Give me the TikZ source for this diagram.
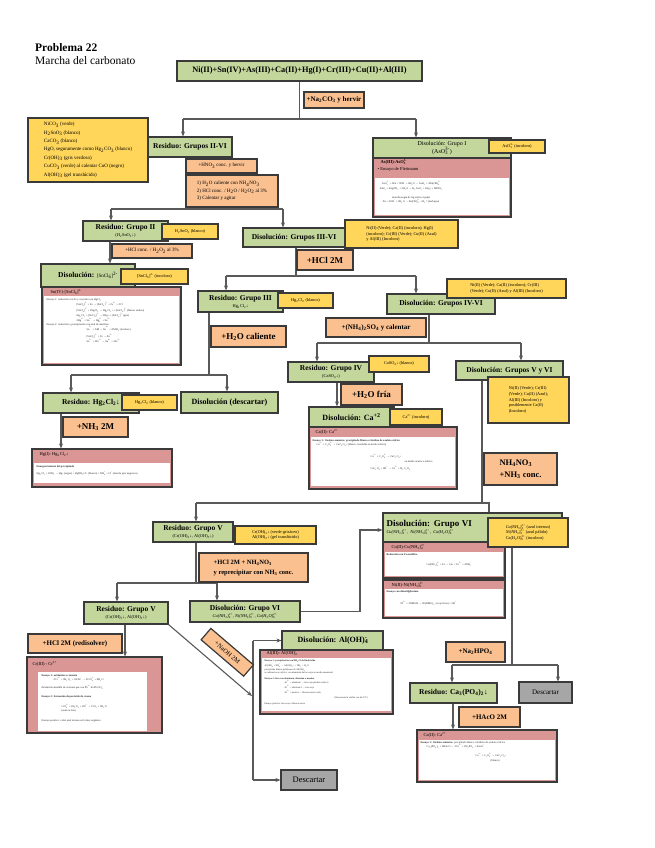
\documentclass[tikz,border=0pt]{standalone}
\usepackage{fontspec}
\setmainfont{Liberation Serif}
\usetikzlibrary{arrows.meta,calc,backgrounds}

\definecolor{verdeF}{HTML}{C3D69B}
\definecolor{naranjaF}{HTML}{FAC090}
\definecolor{amarilloF}{HTML}{FFD55A}
\definecolor{rojoF}{HTML}{D99694}
\definecolor{grisF}{HTML}{A6A6A6}
\definecolor{borde}{HTML}{3A3A3A}
\definecolor{trazo}{HTML}{595959}
\newcommand{\chico}{\mdseries\fontsize{4.4}{5}\selectfont}
\newcommand{\ba}[1]{\textsubscript{#1}}
\newcommand{\su}[1]{\textsuperscript{#1}}
\newcommand{\ion}[2]{\rlap{\textsubscript{#1}}\textsuperscript{#2}}

\begin{document}
\begin{tikzpicture}[x=1pt,y=-1pt,
  verde/.style={draw=borde,line width=1.2pt,fill=verdeF,inner sep=1pt,align=center,
    font=\bfseries\fontsize{7.5}{8}\selectfont},
  naranja/.style={draw=borde,line width=1.2pt,fill=naranjaF,inner sep=1pt,align=center,
    font=\bfseries\fontsize{7}{8}\selectfont},
  amarillo/.style={draw=borde,line width=1.2pt,fill=amarilloF,inner sep=2pt,align=left,
    font=\fontsize{4.3}{5.6}\selectfont},
  gris/.style={draw=borde,line width=1.2pt,fill=grisF,inner sep=1pt,
    font=\fontsize{8.5}{9}\selectfont},
  marco/.style={draw=borde,line width=1.2pt,fill=rojoF,inner sep=0pt},
  cabecera/.style={anchor=north west,inner sep=0pt,font=\fontsize{4.5}{5.5}\selectfont},
  minucia/.style={anchor=north west,inner sep=0pt,align=left,text=black!85,
    font=\fontsize{2.7}{4.2}\selectfont},
  linea/.style={draw=trazo,line width=1.1pt},
  flecha/.style={linea,-{Stealth[length=5pt,width=4pt]}}]
\useasboundingbox (0,0) rectangle (655,848);

% ---------- titulo ----------
\node[anchor=north west,inner sep=0pt,font=\bfseries\fontsize{11.5}{12}\selectfont] (titulo) at (35,43) {Problema 22};
\node[anchor=north west,inner sep=0pt,font=\fontsize{11.5}{12}\selectfont] (subtitulo) at (35,56) {Marcha del carbonato};

% ---------- muestra ----------
\node[verde,minimum width=245,minimum height=20,font=\bfseries\fontsize{8.3}{9}\selectfont] (muestra) at (299.5,71)
  {Ni(II)+Sn(IV)+As(III)+Ca(II)+Hg(I)+Cr(III)+Cu(II)+Al(III)};
\node[naranja,minimum width=60,minimum height=16] (carbonato) at (334,100) {+Na\ba{2}CO\ba{3} y hervir};

% ---------- grupos II-VI ----------
\node[amarillo,minimum width=120,minimum height=64,font=\fontsize{5}{8.4}\selectfont] (notaRes) at (88,150)
  {NiCO\ba{3} (verde)\\H\ba{2}SnO\ba{3} (blanco)\\CaCO\ba{3} (blanco)\\HgO, seguramente como Hg\ba{2}CO\ba{3} (blanco)\\
   Cr(OH)\ba{3} (gris verdoso)\\CuCO\ba{3} (verde) al calentar CuO (negro)\\Al(OH)\ba{3} (gel translúcido)};
\node[verde,minimum width=84,minimum height=20] (res26) at (190,147) {Residuo: Grupos II-VI};
\node[naranja,minimum width=71,minimum height=14,font=\fontsize{5}{6}\selectfont] (nitrico) at (221.5,166) {+HNO\ba{3} conc. y hervir};
\node[naranja,minimum width=92,minimum height=32,align=left,font=\fontsize{5}{7.5}\selectfont] (pasos) at (232,191)
  {1) H\ba{2}O caliente con NH\ba{4}NO\ba{3}\\2) HCl conc. / H\ba{2}O / H\ba{2}O\ba{2} al 3\%\\3) Calentar y agitar};

% ---------- grupo I ----------
\node[marco,minimum width=138,minimum height=79] (cajaAs) at (442,177.5) {};
\fill[white] ($(cajaAs.north west)+(3,41)$) rectangle ($(cajaAs.south east)+(-3,-3)$);
\node[verde,minimum width=138,minimum height=20,font=\fontsize{6}{6.5}\selectfont] (dis1) at (442,148)
  {Disolución: Grupo I\\(AsO\ion{3}{3-})};
\node[cabecera,font=\bfseries\fontsize{4.5}{5.5}\selectfont] (cabAs) at ($(cajaAs.north west)+(8,22)$) {As(III)-AsO\ion{3}{3-}};
\node[cabecera] (fleit) at ($(cajaAs.north west)+(5,29.5)$) {\textbullet\ Ensayo de Fleitmann};
\node[minucia,align=center] (txtAs) at ($(cajaAs.north west)+(7,44)$)
  {AsO\ion{3}{3-} + 3Zn + 3OH\su{-} + 6H\ba{2}O → AsH\ba{3} + 3Zn(OH)\ion{4}{2-}\\
   AsH\ba{3} + 6AgNO\ba{3} + 3H\ba{2}O → H\ba{3}AsO\ba{3} + 6Ag↓ + 6HNO\ba{3}\\[5pt]
   mancha negra de Ag sobre el papel\\
   Zn + 2OH\su{-} + 2H\ba{2}O → Zn(OH)\ion{4}{2-} + H\ba{2}↑ (burbujeo)};
\node[amarillo,minimum width=56,minimum height=13] (notaAs) at (517,146.5) {AsO\ion{3}{3-} (incoloro)};

% ---------- grupo II ----------
\node[verde,minimum width=85,minimum height=20] (res2) at (125.5,231) {Residuo: Grupo II\\[-1pt]{\chico (H\ba{2}SnO\ba{3}↓)}};
\node[amarillo,minimum width=56,minimum height=15] (notaSn) at (190,231.5) {H\ba{2}SnO\ba{3} (blanco)};
\node[naranja,minimum width=80,minimum height=14,font=\fontsize{5}{6}\selectfont] (clorh1) at (152,251) {+HCl conc. / H\ba{2}O\ba{2} al 3\%};
\node[marco,minimum width=139,minimum height=78] (cajaSn) at (111.5,326) {};
\fill[white] ($(cajaSn.north west)+(3,10)$) rectangle ($(cajaSn.south east)+(-3,-3)$);
\node[verde,minimum width=94,minimum height=23] (disSn) at (88,275.5) {Disolución: {\chico\fontsize{5}{6}\selectfont[SnCl\ba{6}]\su{2-}}};
\node[amarillo,minimum width=67,minimum height=15] (notaSnCl) at (154.5,276.5) {[SnCl\ba{6}]\su{2-} (incoloro)};
\node[cabecera] (cabSn) at ($(cajaSn.north west)+(9,2.5)$) {Sn(IV)-[SnCl\ba{6}]\su{2-}};
\node[minucia] (txtSn) at ($(cajaSn.north west)+(5,12)$)
  {Ensayo 1: reducción con Fe y reacción con HgCl\ba{2}\\
   \hspace{30pt}[SnCl\ba{6}]\su{2-} + Fe → [SnCl\ba{4}]\su{2-} + Fe\su{2+} + 2Cl\su{-}\\
   \hspace{30pt}[SnCl\ba{4}]\su{2-} + 2HgCl\ba{2} → Hg\ba{2}Cl\ba{2}↓ + [SnCl\ba{6}]\su{2-} (blanco sedoso)\\
   \hspace{30pt}Hg\ba{2}Cl\ba{2} + [SnCl\ba{4}]\su{2-} → 2Hg↓ + [SnCl\ba{6}]\su{2-} (gris)\\
   \hspace{30pt}2Hg\su{2+} + Sn\su{2+} → Hg\ion{2}{2+} + Sn\su{4+}\\
   Ensayo 2: reducción y precipitación con azul de metileno\\
   \hspace{40pt}Sn\su{2+} + AM → Sn\su{4+} + AMH\ba{2} (incoloro)\\[2pt]
   \hspace{40pt}[SnCl\ba{6}]\su{2-} + Fe → Sn\su{2+}\\
   \hspace{40pt}Sn\su{2+} + 2Fe\su{3+} → Sn\su{4+} + 2Fe\su{2+}};

% ---------- grupos III-VI ----------
\node[verde,minimum width=102,minimum height=19] (dis36) at (294,237.5) {Disolución: Grupos III-VI};
\node[amarillo,minimum width=113,minimum height=28] (nota36) at (401.5,234)
  {Ni(II) (Verde); Ca(II) (incoloro); Hg(I)\\(incoloro); Cr(III) (Verde); Cu(II) (Azul)\\y Al(III) (Incoloro)};
\node[naranja,minimum width=56,minimum height=20,font=\bfseries\fontsize{9}{10}\selectfont] (clorh2) at (325,260) {+HCl 2M};

% ---------- grupo III ----------
\node[verde,minimum width=85,minimum height=21] (res3) at (240.5,301.5) {Residuo: Grupo III\\[-1pt]{\chico Hg\ba{2}Cl\ba{2}↓}};
\node[amarillo,minimum width=55,minimum height=15] (notaHg) at (305.5,300.5) {Hg\ba{2}Cl\ba{2} (blanco)};
\node[naranja,minimum width=75,minimum height=21,font=\bfseries\fontsize{9}{10}\selectfont] (calien) at (248.5,336.5) {+H\ba{2}O caliente};
\node[verde,minimum width=96,minimum height=20] (resHg) at (91,403) {Residuo: Hg\ba{2}Cl\ba{2}↓};
\node[amarillo,minimum width=55,minimum height=15] (notaHg2) at (149.5,402.5) {Hg\ba{2}Cl\ba{2} (blanco)};
\node[verde,minimum width=97,minimum height=21,font=\bfseries\fontsize{8}{9}\selectfont] (descHg) at (229.5,402.5) {Disolución (descartar)};
\node[naranja,minimum width=65,minimum height=20,font=\bfseries\fontsize{9}{10}\selectfont] (amon1) at (95.5,427) {+NH\ba{3} 2M};
\node[marco,minimum width=140,minimum height=38] (cajaHg) at (102,468) {};
\fill[white] ($(cajaHg.north west)+(3,15)$) rectangle ($(cajaHg.south east)+(-3,-5)$);
\node[cabecera] (cabHg) at ($(cajaHg.north west)+(8,4)$) {Hg(I)- Hg\ba{2}Cl\ba{2}↓};
\node[minucia] (txtHg) at ($(cajaHg.north west)+(5,17)$)
  {\textbf{Ennegrecimiento del precipitado}\\[3pt]
   Hg\ba{2}Cl\ba{2} + 2NH\ba{3} → Hg↓ (negro) + HgNH\ba{2}Cl↓ (blanco) + NH\ion{4}{+} + Cl\su{-} (mezcla gris negruzca)};

% ---------- grupos IV-VI ----------
\node[verde,minimum width=108,minimum height=20] (dis46) at (441,304) {Disolución: Grupos IV-VI};
\node[amarillo,minimum width=119,minimum height=19] (nota46) at (506.5,288.5)
  {Ni(II) (Verde); Ca(II) (incoloro); Cr(III)\\(Verde); Cu(II) (Azul) y Al(III) (Incoloro)};
\node[naranja,minimum width=100,minimum height=19] (sulfato) at (376,327.5) {+(NH\ba{4})\ba{2}SO\ba{4} y calentar};

% ---------- grupo IV ----------
\node[verde,minimum width=86,minimum height=20] (res4) at (331,372) {Residuo: Grupo IV\\[-1pt]{\chico (CaSO\ba{4}↓)}};
\node[amarillo,minimum width=60,minimum height=16] (notaCa) at (399,364) {CaSO\ba{4}↓ (blanco)};
\node[naranja,minimum width=61,minimum height=21,font=\bfseries\fontsize{9}{10}\selectfont] (fria) at (371.5,394.5) {+H\ba{2}O fría};
\node[marco,minimum width=148,minimum height=62] (cajaCa) at (383,458) {};
\fill[white] ($(cajaCa.north west)+(3,11)$) rectangle ($(cajaCa.south east)+(-3,-4)$);
\node[verde,minimum width=85,minimum height=20,font=\bfseries\fontsize{8}{9}\selectfont] (disCa) at (351.5,417) {Disolución: Ca\su{+2}};
\node[amarillo,minimum width=52,minimum height=16] (notaCa2) at (416,417) {Ca\su{2+} (incoloro)};
\node[cabecera] (cabCa) at ($(cajaCa.north west)+(7,3)$) {Ca(II)- Ca\su{2+}};
\node[minucia] (txtCa) at ($(cajaCa.north west)+(4,13)$)
  {\textbf{Ensayo 1: Oxalato amónico: precipitado blanco cristalino de oxalato cálcico}\\
   \hspace{4pt}Ca\su{2+} + C\ba{2}O\ion{4}{2-} → CaC\ba{2}O\ba{4}↓ (blanco, insoluble en ácido acético)\\[7pt]
   \hspace{58pt}Ca\su{2+} + C\ba{2}O\ion{4}{2-} → CaC\ba{2}O\ba{4}↓\\
   \hspace{92pt}en medio neutro o acético\\[3pt]
   \hspace{58pt}CaC\ba{2}O\ba{4} + 2H\su{+} → Ca\su{2+} + H\ba{2}C\ba{2}O\ba{4}};

% ---------- grupos V y VI ----------
\node[verde,minimum width=107,minimum height=19] (dis56) at (509.5,370.5) {Disolución: Grupos V y VI};
\node[amarillo,minimum width=81,minimum height=46] (nota56) at (528.5,400)
  {Ni(II) (Verde); Cr(III)\\(Verde); Cu(II) (Azul);\\Al(III) (Incoloro) y\\posiblemente Ca(II)\\(Incoloro)};
\node[naranja,minimum width=73,minimum height=32,align=left,font=\bfseries\fontsize{8.5}{12}\selectfont] (amonios) at (520.5,469)
  {NH\ba{4}NO\ba{3}\\+NH\ba{3} conc.};

% ---------- grupo V ----------
\node[verde,minimum width=80,minimum height=20] (res5) at (193,532) {Residuo: Grupo V\\[-1pt]{\chico (Cr(OH)\ba{3}↓, Al(OH)\ba{3}↓)}};
\node[amarillo,minimum width=81,minimum height=18] (notaV) at (275.5,535) {Cr(OH)\ba{3}↓ (verde-grisáceo)\\Al(OH)\ba{3}↓ (gel translúcido)};
\node[naranja,minimum width=109,minimum height=29,align=left,font=\bfseries\fontsize{6.5}{10}\selectfont] (repre) at (253.5,567.5)
  {+HCl 2M + NH\ba{4}NO\ba{3}\\y reprecipitar con NH\ba{3} conc.};
\node[verde,minimum width=84,minimum height=22] (res5b) at (126,613) {Residuo: Grupo V\\[-1pt]{\chico (Cr(OH)\ba{3}↓, Al(OH)\ba{3}↓)}};
\node[verde,minimum width=110,minimum height=21] (dis6m) at (245,611.5)
  {Disolución: Grupo VI\\[-1pt]{\chico\itshape Cu(NH\ba{3})\ion{4}{2+}, Ni(NH\ba{3})\ion{6}{2+}, Ca(H\ba{2}O)\ion{6}{2+}}};

% ---------- cromo ----------
\node[naranja,minimum width=94,minimum height=19] (redis) at (75,643.5) {+HCl 2M (redisolver)};
\node[marco,minimum width=135,minimum height=76] (cajaCr) at (94.5,695) {};
\fill[white] ($(cajaCr.north west)+(12,16)$) rectangle ($(cajaCr.south east)+(-16,-3)$);
\node[cabecera] (cabCr) at ($(cajaCr.north west)+(6,5)$) {Cr(III) - Cr\su{3+}};
\node[minucia] (txtCr) at ($(cajaCr.north west)+(15,18)$)
  {\textbf{Ensayo 1: oxidación a cromato}\\
   \hspace{12pt}2Cr\su{3+} + 3H\ba{2}O\ba{2} + 10OH\su{-} → 2CrO\ion{4}{2-} + 8H\ba{2}O\\[3pt]
   disolución amarilla de cromato que con Pb\su{2+} da PbCrO\ba{4}\\[4pt]
   \textbf{Ensayo 2: formación de peróxido de cromo}\\[6pt]
   \hspace{20pt}CrO\ion{4}{2-} + 2H\ba{2}O\ba{2} + 2H\su{+} → CrO\ba{5} + 3H\ba{2}O\\
   \hspace{20pt}(azul en éter)\\[6pt]
   Ensayo positivo: color azul intenso en la fase orgánica};

% ---------- aluminio ----------
\node[marco,minimum width=133,minimum height=64] (cajaAl) at (326.5,682) {};
\fill[white] ($(cajaAl.north west)+(3,9)$) rectangle ($(cajaAl.south east)+(-3,-4)$);
\node[verde,minimum width=101,minimum height=19,font=\bfseries\fontsize{8}{9}\selectfont] (disAl) at (332.5,640.5) {Disolución: Al(OH)\ion{4}{-}};
\node[cabecera] (cabAl) at ($(cajaAl.north west)+(7,1.5)$) {Al(III)- Al(OH)\ion{4}{-}};
\node[minucia,font=\fontsize{2.4}{3.5}\selectfont] (txtAl) at ($(cajaAl.north west)+(5,10.5)$)
  {\textbf{Ensayo 1: precipitación con NH\ba{4}Cl del hidróxido}\\
   Al(OH)\ion{4}{-} + NH\ion{4}{+} → Al(OH)\ba{3}↓ + NH\ba{3} + H\ba{2}O\\
   precipitado blanco gelatinoso de Al(OH)\ba{3}\\
   se redisuelve en ácido y con aluminón da laca roja en medio amoniacal\\[2pt]
   \textbf{Ensayo 2: laca con aluminón, alizarina o morina}\\
   \hspace{20pt}Al\su{3+} + aluminón → laca roja (medio acético)\\
   \hspace{20pt}Al\su{3+} + alizarina S → laca roja\\
   \hspace{20pt}Al\su{3+} + morina → fluorescencia verde\\[2pt]
   \hspace{70pt}(fluorescencia visible con luz UV)\\[2pt]
   Ensayo positivo: laca roja o fluorescencia};
\node[gris,minimum width=56,minimum height=20] (desc3) at (309,780) {Descartar};

% ---------- grupo VI ----------
\node[verde,minimum width=179,minimum height=29,align=left,text width=172] (dis6) at (472.5,527.5)
  {\fontsize{9}{10}\selectfont Disolución: Grupo VI\\[-1pt]{\chico\itshape Cu(NH\ba{3})\ion{4}{2+}, Ni(NH\ba{3})\ion{6}{2+}, Ca(H\ba{2}O)\ion{6}{2+}}};
\node[marco,minimum width=122,minimum height=36] (cajaCu) at (444,560) {};
\fill[white] ($(cajaCu.north west)+(3,11)$) rectangle ($(cajaCu.south east)+(-3,-3)$);
\node[cabecera] (cabCu) at ($(cajaCu.north west)+(9,2.5)$) {Cu(II)-Cu(NH\ba{3})\ion{4}{2+}};
\node[minucia] (txtCu) at ($(cajaCu.north west)+(4,12)$)
  {\textbf{Reducción con Fe metálico}\\[6pt]
   \hspace{40pt}Cu(NH\ba{3})\ion{4}{2+} + Fe → Cu↓ + Fe\su{2+} + 4NH\ba{3}};
\node[marco,minimum width=122,minimum height=38] (cajaNi) at (444,599) {};
\fill[white] ($(cajaNi.north west)+(3,10)$) rectangle ($(cajaNi.south east)+(-3,-3)$);
\node[cabecera] (cabNi) at ($(cajaNi.north west)+(9,2.5)$) {Ni(II)-Ni(NH\ba{3})\ion{6}{2+}};
\node[minucia] (txtNi) at ($(cajaNi.north west)+(4,11)$)
  {\textbf{Ensayo con dimetilglioxima}\\[8pt]
   \hspace{14pt}Ni\su{2+} + 2DMGH → Ni(DMG)\ba{2}↓ (rojo fresa) + 2H\su{+}};
\node[amarillo,minimum width=80,minimum height=29] (nota6) at (528,532.5)
  {{\itshape Cu(NH\ba{3})\ion{4}{2+}} (azul intenso)\\{\itshape Ni(NH\ba{3})\ion{6}{2+}} (azul pálido)\\Ca(H\ba{2}O)\ion{6}{2+} (incoloro)};

% ---------- calcio (fosfato) ----------
\node[naranja,minimum width=59,minimum height=20] (fosfato) at (475.5,652) {+Na\ba{2}HPO\ba{4}};
\node[verde,minimum width=87,minimum height=20] (resCa) at (453.5,693) {Residuo: Ca\ba{3}(PO\ba{4})\ba{2}↓};
\node[gris,minimum width=53,minimum height=21,font=\fontsize{7}{8}\selectfont] (desc2) at (545.5,692.5) {Descartar};
\node[naranja,minimum width=61,minimum height=20] (acetico) at (489.5,717) {+HAcO 2M};
\node[marco,minimum width=140,minimum height=52] (cajaCa2) at (487,756) {};
\fill[white] ($(cajaCa2.north west)+(3,11)$) rectangle ($(cajaCa2.south east)+(-3,-3)$);
\node[cabecera] (cabCa2) at ($(cajaCa2.north west)+(7,3)$) {Ca(II)- Ca\su{2+}};
\node[minucia] (txtCa2) at ($(cajaCa2.north west)+(4,12)$)
  {\textbf{Ensayo 1: Oxalato amónico:} precipitado blanco cristalino de oxalato cálcico\\
   \hspace{6pt}Ca\ba{3}(PO\ba{4})\ba{2} + 6HAcO → 3Ca\su{2+} + 2H\ba{3}PO\ba{4} + 6AcO\su{-}\\[4pt]
   \hspace{55pt}Ca\su{2+} + C\ba{2}O\ion{4}{2-} → CaC\ba{2}O\ba{4}↓\\
   \hspace{70pt}(blanco)};

% ---------- conectores ----------
\begin{scope}[on background layer]
  \fill[white] (0,0) rectangle (655,848);
  \coordinate (r1) at (299.5,119);
  \coordinate (r1i) at (183,119);
  \coordinate (r1d) at (416,119);
  \draw[linea] (muestra.south) -- (r1);
  \draw[linea] (r1i) -- (r1d);
  \draw[flecha] (r1i) -- (res26.north -| r1i);
  \draw[flecha] (r1d) -- (dis1.north -| r1d);

  \coordinate (r2) at (190,209);
  \coordinate (r2i) at (111,209);
  \coordinate (r2d) at (283,209);
  \draw[linea] (res26.south -| r2) -- (r2);
  \draw[linea] (r2i) -- (r2d);
  \draw[flecha] (r2i) -- (res2.north -| r2i);
  \draw[flecha] (r2d) -- (dis36.north -| r2d);
  \draw[flecha] ([xshift=-15.5]res2.south) -- ([xshift=-15.5]res2.south |- disSn.north);

  \coordinate (r3) at (296,276);
  \coordinate (r3i) at (226,276);
  \coordinate (r3d) at (416,276);
  \draw[linea] (dis36.south -| r3) -- (r3);
  \draw[linea] (r3i) -- (r3d);
  \draw[flecha] (r3i) -- (res3.north -| r3i);
  \draw[flecha] (r3d) -- (dis46.north -| r3d);

  \coordinate (r4) at (209,375);
  \coordinate (r4i) at (71,375);
  \coordinate (r4d) at (227,375);
  \draw[linea] (res3.south -| r4) -- (r4);
  \draw[linea] (r4i) -- (r4d);
  \draw[flecha] (r4i) -- (resHg.north -| r4i);
  \draw[flecha] (r4d) -- (descHg.north -| r4d);
  \draw[flecha] ([xshift=-30]resHg.south) -- ([xshift=-30]resHg.south |- cajaHg.north);

  \coordinate (r5) at (429,343);
  \coordinate (r5i) at (317,343);
  \coordinate (r5d) at (521,343);
  \draw[linea] (dis46.south -| r5) -- (r5);
  \draw[linea] (r5i) -- (r5d);
  \draw[flecha] (r5i) -- (res4.north -| r5i);
  \draw[flecha] (r5d) -- (dis56.north -| r5d);
  \draw[flecha] ([xshift=6]res4.south) -- ([xshift=6]res4.south |- disCa.north);

  \coordinate (r6) at (482,503);
  \coordinate (r6i) at (196,503);
  \coordinate (r6d) at (489,503);
  \draw[linea] (dis56.south -| r6) -- (r6);
  \draw[linea] (r6i) -- (r6d) -- (dis6.north -| r6d);
  \draw[flecha] (r6i) -- (res5.north -| r6i);

  \coordinate (r7) at (196,583);
  \coordinate (r7i) at (117,583);
  \coordinate (r7d) at (217,583);
  \draw[linea] (res5.south -| r7) -- (r7);
  \draw[linea] (r7i) -- (r7d);
  \draw[flecha] (r7i) -- (res5b.north -| r7i);
  \draw[flecha] (r7d) -- (dis6m.north -| r7d);

  \coordinate (k1) at (360,611.5);
  \coordinate (k2) at (360,530);
  \draw[flecha] (dis6m.east) -- (k1) -- (k2) -- (k2 -| dis6.west);

  \coordinate (r8) at (512,665);
  \coordinate (r8i) at (452,665);
  \coordinate (r8d) at (558,665);
  \draw[linea] (dis6.south -| r8) -- (r8);
  \draw[linea] (r8i) -- (r8d);
  \draw[flecha] (r8i) -- (resCa.north -| r8i);
  \draw[flecha] (r8d) -- (desc2.north -| r8d);
  \draw[flecha] ([xshift=-0.5]resCa.south) -- ([xshift=-0.5]resCa.south |- cajaCa2.north);

  \draw[flecha] ([xshift=-1]res5b.south) -- ([xshift=-1]res5b.south |- cajaCr.north);
  \coordinate (n1) at (253,640.5);
  \coordinate (n2) at (253,780);
  \coordinate (nm) at (252,696);
  \draw[linea] (n1) -- (n2);
  \draw[flecha] (n1) -- (disAl.west |- n1);
  \draw[flecha] (n2) -- (desc3.west |- n2);
\end{scope}
\draw[flecha] (res5b.south east) -- (nm)
  node[naranja,pos=0.57,sloped,above=9pt,minimum width=56,minimum height=15,font=\fontsize{6.5}{7}\selectfont] (sosa) {+NaOH 2M};
\end{tikzpicture}
\end{document}
